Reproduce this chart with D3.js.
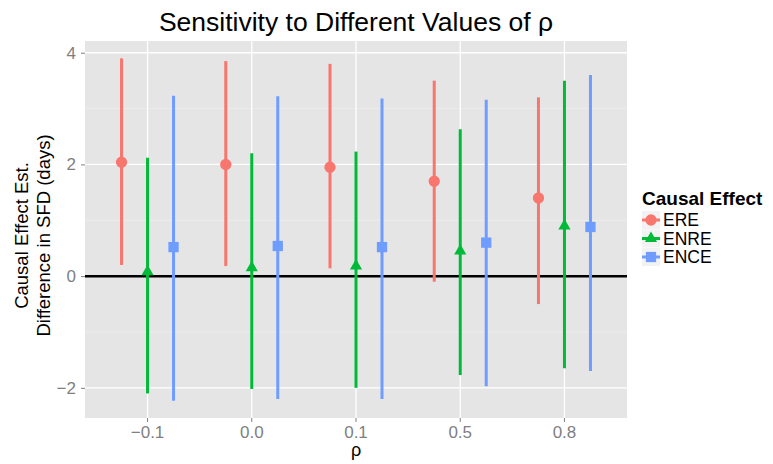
<!DOCTYPE html>
<html lang="en">
<head>
  <meta charset="UTF-8">
  <title>Sensitivity to Different Values of rho</title>
  <style>
    body { margin: 0; padding: 0; background: #fff; font-family: 'Liberation Sans', Arial, sans-serif; }
    svg { display: block; }
  </style>
</head>
<body>
  <svg width="773" height="464"></svg>

  <script src="https://d3js.org/d3.v7.min.js"></script>
  <script>
    // data
    const rhos = ["-0.1", "0.0", "0.1", "0.5", "0.8"];
    const effects = ["ERE", "ENRE", "ENCE"];
    const colors = ["#f8766d", "#00ba38", "#6f9cff"];

    const ereEst = [2.04, 2.0, 1.95, 1.7, 1.4];
    const ereLow = [0.2, 0.18, 0.14, -0.1, -0.5];
    const ereHigh = [3.9, 3.85, 3.8, 3.5, 3.2];

    const enreEst = [0.08, 0.15, 0.18, 0.45, 0.9];
    const enreLow = [-2.1, -2.02, -2.0, -1.77, -1.65];
    const enreHigh = [2.12, 2.2, 2.23, 2.63, 3.5];

    const enceEst = [0.52, 0.54, 0.52, 0.6, 0.88];
    const enceLow = [-2.23, -2.2, -2.2, -1.97, -1.7];
    const enceHigh = [3.23, 3.22, 3.18, 3.16, 3.6];

    const yTicks = [-2, 0, 2, 4];
    const yMinor = [-1, 1, 3];

    const series = [
      { name: "ERE", est: ereEst, low: ereLow, high: ereHigh },
      { name: "ENRE", est: enreEst, low: enreLow, high: enreHigh },
      { name: "ENCE", est: enceEst, low: enceLow, high: enceHigh }
    ];

    const shapes = { ERE: d3.symbolCircle, ENRE: d3.symbolTriangle, ENCE: d3.symbolSquare };
    const sizes = { ERE: 100, ENRE: 64, ENCE: 106 };

    const svg = d3.select("svg");
    const panel = { left: 85, right: 627, top: 41, bottom: 418 };

    const x = d3.scaleBand().domain(rhos)
      .range([panel.left, panel.right]).paddingInner(0).paddingOuter(0.1);
    const y = d3.scaleLinear().domain([-2.54, 4.21]).range([panel.bottom, panel.top]);
    const color = d3.scaleOrdinal().domain(effects).range(colors);
    const dodge = d3.scaleBand().domain(effects).range([-39, 39]);

    const cx = (r, e) => x(r) + x.bandwidth() / 2 + dodge(e) + dodge.bandwidth() / 2;

    // panel background
    svg.append("rect")
      .attr("x", panel.left).attr("y", panel.top)
      .attr("width", panel.right - panel.left).attr("height", panel.bottom - panel.top)
      .attr("fill", "#e5e5e5");

    const grid = svg.append("g");
    grid.selectAll(".minor").data(yMinor).enter().append("line")
      .attr("x1", panel.left).attr("x2", panel.right)
      .attr("y1", d => y(d)).attr("y2", d => y(d))
      .attr("stroke", "#f2f2f2").attr("stroke-width", 0.6);
    grid.selectAll(".major").data(yTicks).enter().append("line")
      .attr("x1", panel.left).attr("x2", panel.right)
      .attr("y1", d => y(d)).attr("y2", d => y(d))
      .attr("stroke", "#fff").attr("stroke-width", 1.3);
    grid.selectAll(".vmajor").data(rhos).enter().append("line")
      .attr("x1", d => x(d) + x.bandwidth() / 2).attr("x2", d => x(d) + x.bandwidth() / 2)
      .attr("y1", panel.top).attr("y2", panel.bottom)
      .attr("stroke", "#fff").attr("stroke-width", 1.3);

    // zero line
    svg.append("line")
      .attr("x1", panel.left).attr("x2", panel.right)
      .attr("y1", y(0)).attr("y2", y(0))
      .attr("stroke", "#000").attr("stroke-width", 2.5);

    const marks = svg.append("g");
    series.forEach(s => {
      const g = marks.append("g");
      const c = color(s.name);
      g.selectAll("line").data(rhos).enter().append("line")
        .attr("x1", r => cx(r, s.name)).attr("x2", r => cx(r, s.name))
        .attr("y1", (r, i) => y(s.low[i])).attr("y2", (r, i) => y(s.high[i]))
        .attr("stroke", c).attr("stroke-width", 3);
      g.selectAll("path").data(rhos).enter().append("path")
        .attr("transform", (r, i) => `translate(${cx(r, s.name)},${y(s.est[i])})`)
        .attr("d", d3.symbol().type(shapes[s.name]).size(sizes[s.name]))
        .attr("fill", c);
    });

    // axes
    const yAxis = svg.append("g")
      .attr("transform", `translate(${panel.left},0)`)
      .call(d3.axisLeft(y).tickValues(yTicks).tickSize(4).tickPadding(5).tickFormat(d3.format("d")));
    yAxis.select(".domain").remove();
    yAxis.selectAll(".tick line").attr("stroke", "#7f7f7f");
    yAxis.selectAll(".tick text")
      .attr("font-size", 17).attr("fill", "#7f7f7f")
      .text(d => d < 0 ? "\u2212" + Math.abs(d) : d);

    const xAxis = svg.append("g")
      .attr("transform", `translate(0,${panel.bottom})`)
      .call(d3.axisBottom(x).tickSize(4).tickPadding(4));
    xAxis.select(".domain").remove();
    xAxis.selectAll(".tick line").attr("stroke", "#7f7f7f");
    xAxis.selectAll(".tick text")
      .attr("font-size", 17).attr("fill", "#7f7f7f")
      .text(d => d.replace("-", "\u2212"));

    // titles
    svg.append("text")
      .attr("x", (panel.left + panel.right) / 2).attr("y", 31)
      .attr("text-anchor", "middle").attr("font-size", 26.5).attr("fill", "#000")
      .text("Sensitivity to Different Values of \u03c1");

    svg.append("text")
      .attr("x", (panel.left + panel.right) / 2).attr("y", 456)
      .attr("text-anchor", "middle").attr("font-size", 18).attr("fill", "#000")
      .text("\u03c1");

    const yt = svg.append("text")
      .attr("transform", `translate(28,${(panel.top + panel.bottom) / 2 + 6}) rotate(-90)`)
      .attr("text-anchor", "middle").attr("font-size", 18.5).attr("fill", "#000");
    yt.append("tspan").attr("x", 0).attr("dy", 0).text("Causal Effect Est.");
    yt.append("tspan").attr("x", 0).attr("dy", 22).text("Difference in SFD (days)");

    // legend
    const legend = svg.append("g").attr("transform", "translate(642,0)");
    legend.append("text")
      .attr("x", 0).attr("y", 205)
      .attr("font-size", 19).attr("font-weight", "bold").attr("fill", "#000")
      .text("Causal Effect");
    effects.forEach((e, i) => {
      const ky = 211 + i * 18.5;
      legend.append("rect")
        .attr("x", 0).attr("y", ky).attr("width", 18).attr("height", 18)
        .attr("fill", "#f2f2f2");
      legend.append("line")
        .attr("x1", 0).attr("x2", 18).attr("y1", ky + 9).attr("y2", ky + 9)
        .attr("stroke", color(e)).attr("stroke-width", 3);
      legend.append("path")
        .attr("transform", `translate(9,${ky + 9})`)
        .attr("d", d3.symbol().type(shapes[e]).size(sizes[e]))
        .attr("fill", color(e));
      legend.append("text")
        .attr("x", 21).attr("y", ky + 15)
        .attr("font-size", 17.5).attr("fill", "#000")
        .text(e);
    });
  </script>
</body>
</html>
